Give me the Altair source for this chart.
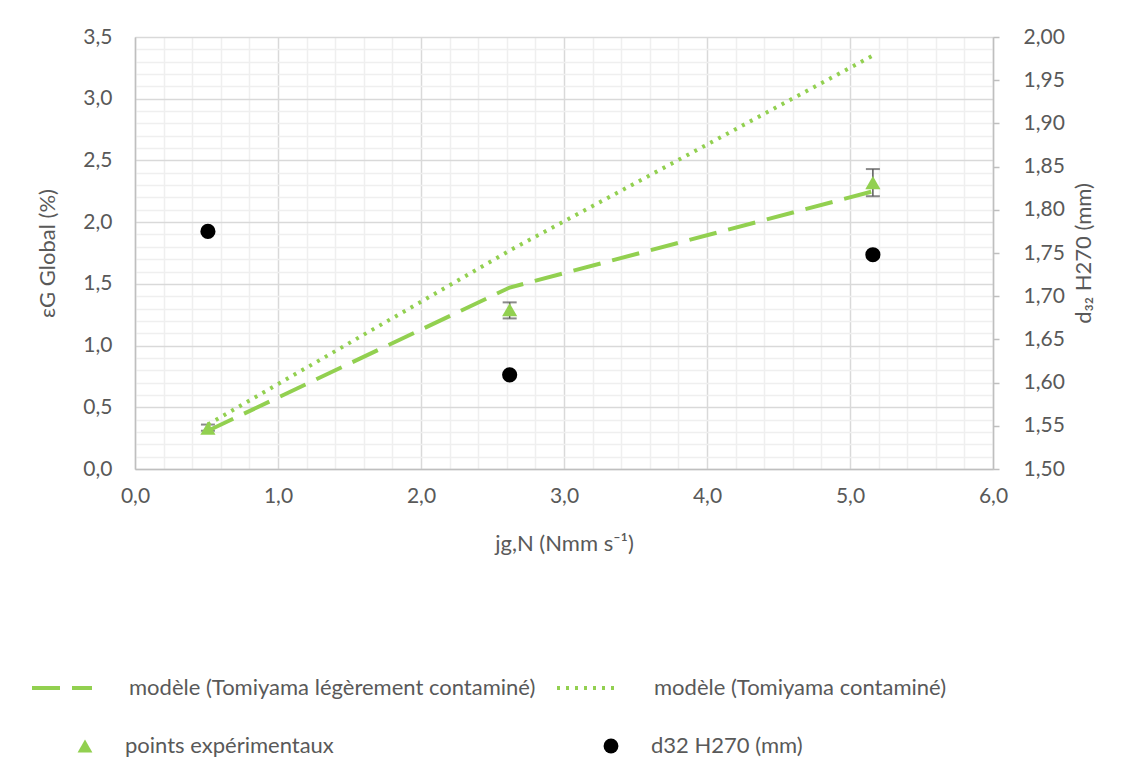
import altair as alt
import pandas as pd

# ---- data ----
jg = [0.51, 2.62, 5.16]
eps_exp = [0.33, 1.29, 2.32]
eps_lo = [0.31, 1.22, 2.21]
eps_hi = [0.36, 1.35, 2.43]
model_light = [0.31, 1.47, 2.25]
model_cont = [0.36, 1.77, 3.35]
d32 = [1.775, 1.609, 1.748]

lbl_light = "modèle (Tomiyama légèrement contaminé)"
lbl_cont = "modèle (Tomiyama contaminé)"
lbl_pts = "points expérimentaux"
lbl_d32 = "d32 H270 (mm)"

x_grid = [round(0.2 * i, 1) for i in range(31)]
y_grid = [round(0.1 * i, 1) for i in range(36)]
y2_ticks = [round(1.5 + 0.05 * i, 2) for i in range(11)]

GREEN = "#92D050"
TXT = "#595959"
FONT = "Lato"
LBL = 21
TTL = 22
LEG = 22

df_lines = pd.DataFrame({
    "jg": jg + jg,
    "eps": model_light + model_cont,
    "modele": [lbl_light] * 3 + [lbl_cont] * 3,
})
df_pts = pd.DataFrame({"jg": jg, "eps": eps_exp, "lo": eps_lo, "hi": eps_hi,
                       "serie": [lbl_pts] * 3})
df_d32 = pd.DataFrame({"jg": jg, "d32": d32, "serie": [lbl_d32] * 3})

x_scale = alt.Scale(domain=[0, 6], nice=False)
y_scale = alt.Scale(domain=[0, 3.5], nice=False)
y2_scale = alt.Scale(domain=[1.5, 2.0], nice=False)

x_axis = alt.Axis(
    values=x_grid, grid=True,
    gridColor={"condition": {"test": "abs(datum.value - round(datum.value)) < 0.001",
                             "value": "#d9d9d9"}, "value": "#efefef"},
    gridWidth=1.5,
    labelExpr="abs(datum.value - round(datum.value)) < 0.001 ? replace(format(datum.value, '.1f'), '.', ',') : ''",
    labelOverlap=False, labelFlush=False, labelPadding=16,
    ticks=False, tickSize=0, domainColor="#bfbfbf", domainWidth=1.5,
    labelColor=TXT, labelFontSize=LBL, labelFont=FONT,
    title="jg,N (Nmm s⁻¹)", titleColor=TXT, titleFontSize=TTL, titleFont=FONT,
    titleFontWeight="normal", titleX=429, titleY=74, titleBaseline="middle",
)
y_axis = alt.Axis(
    values=y_grid, grid=True,
    gridColor={"condition": {"test": "abs(datum.value * 2 - round(datum.value * 2)) < 0.001",
                             "value": "#d9d9d9"}, "value": "#efefef"},
    gridWidth=1.5,
    labelExpr="abs(datum.value * 2 - round(datum.value * 2)) < 0.001 ? replace(format(datum.value, '.1f'), '.', ',') : ''",
    labelOverlap=False, labelFlush=False, labelPadding=23,
    ticks=False, tickSize=0, domainColor="#bfbfbf", domainWidth=1.5,
    labelColor=TXT, labelFontSize=LBL, labelFont=FONT,
    title="εG Global (%)", titleColor=TXT, titleFontSize=TTL, titleFont=FONT,
    titleFontWeight="normal", titleX=-88, titleY=216, titleAngle=270,
    titleAlign="center", titleBaseline="middle",
)
y2_axis = alt.Axis(
    orient="right", values=y2_ticks, grid=False,
    labelExpr="replace(format(datum.value, '.2f'), '.', ',')",
    labelOverlap=False, labelFlush=False, labelPadding=24,
    ticks=True, tickSize=6, tickColor="#bfbfbf", tickWidth=1.5,
    domainColor="#bfbfbf", domainWidth=1.5,
    labelColor=TXT, labelFontSize=LBL, labelFont=FONT,
    title="d₃₂ H270 (mm)", titleColor=TXT, titleFontSize=TTL, titleFont=FONT,
    titleFontWeight="normal", titleX=90, titleY=216, titleAngle=270,
    titleAlign="center", titleBaseline="middle",
)


def X(field="jg:Q"):
    return alt.X(field, scale=x_scale, axis=x_axis)


def Y(field):
    return alt.Y(field, scale=y_scale, axis=y_axis)


lines = alt.Chart(df_lines).mark_line(strokeWidth=4, color=GREEN).encode(
    x=X(),
    y=Y("eps:Q"),
    strokeDash=alt.StrokeDash(
        "modele:N",
        scale=alt.Scale(domain=[lbl_light, lbl_cont], range=[[28, 12], [3, 6]]),
        legend=alt.Legend(
            title=None, orient="none", legendX=-105, legendY=619, direction="horizontal",
            columns=2, columnPadding=13, symbolType="stroke", symbolSize=3600,
            symbolStrokeWidth=4, symbolStrokeColor=GREEN, labelOffset=35,
            labelFontSize=LEG, labelFont=FONT, labelColor=TXT, labelLimit=800,
        ),
    ),
)

err = alt.Chart(df_pts).mark_rule(color=TXT, strokeWidth=1.5).encode(
    x=X(), y=Y("lo:Q"), y2="hi:Q")
cap_lo = alt.Chart(df_pts).mark_tick(color=TXT, orient="horizontal", size=14, thickness=2).encode(
    x=X(), y=Y("lo:Q"))
cap_hi = alt.Chart(df_pts).mark_tick(color=TXT, orient="horizontal", size=14, thickness=2).encode(
    x=X(), y=Y("hi:Q"))

shape_scale = alt.Scale(domain=[lbl_pts, lbl_d32], range=["triangle-up", "circle"])
color_scale = alt.Scale(domain=[lbl_pts, lbl_d32], range=[GREEN, "#000000"])
pt_legend = alt.Legend(
    title=None, orient="none", legendX=-61, legendY=698, direction="horizontal",
    columns=2, columnPadding=266, symbolSize=220, labelOffset=29,
    labelFontSize=LEG, labelFont=FONT, labelColor=TXT, labelLimit=800,
)

tri = alt.Chart(df_pts).mark_point(filled=True, size=230, opacity=1).encode(
    x=X(), y=Y("eps:Q"),
    shape=alt.Shape("serie:N", scale=shape_scale, legend=pt_legend),
    color=alt.Color("serie:N", scale=color_scale, legend=pt_legend),
)

left = alt.layer(err, cap_lo, cap_hi, tri, lines)

right = alt.Chart(df_d32).mark_point(filled=True, size=230, opacity=1).encode(
    x=X(),
    y=alt.Y("d32:Q", scale=y2_scale, axis=y2_axis),
    shape=alt.Shape("serie:N", scale=shape_scale, legend=pt_legend),
    color=alt.Color("serie:N", scale=color_scale, legend=pt_legend),
)

chart = alt.layer(left, right).resolve_scale(y="independent").properties(
    width=858, height=432,
    autosize=alt.AutoSizeParams(type="none"),
    padding={"left": 127, "top": 29, "right": 120, "bottom": 294},
).configure_view(stroke=None).configure(background="white")

chart.save("out.html", embed_options={"renderer": "svg", "actions": False})
